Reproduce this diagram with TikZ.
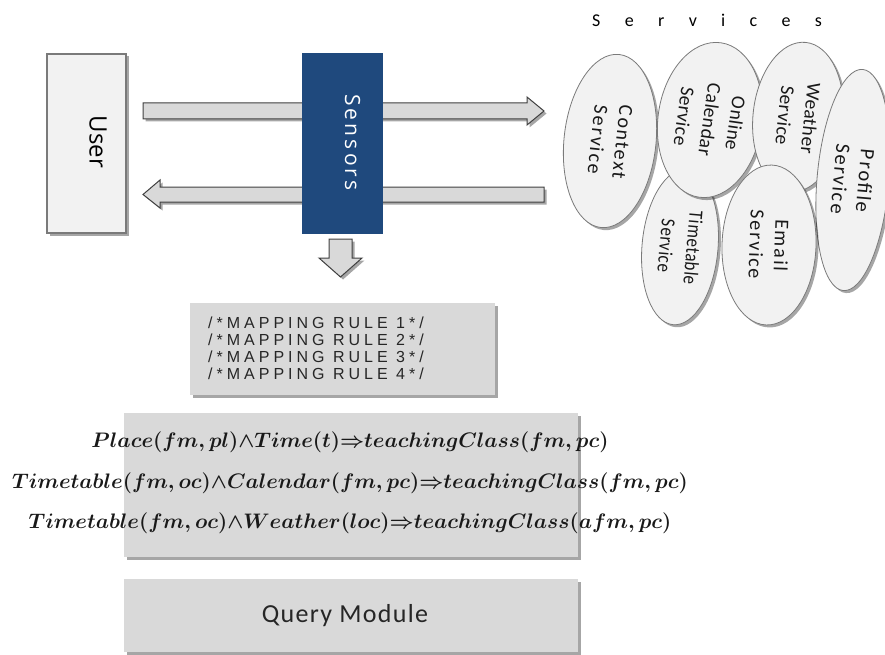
\RequirePackage{fix-cm}
\documentclass[tikz,border=0pt]{standalone}
\usepackage{fontspec}
\setmainfont{Carlito}
\newfontfamily\rulefont[LetterSpace=25]{Liberation Sans}
\newfontfamily\userfont{Open Sans}
\newfontfamily\sensfont[LetterSpace=15]{Open Sans}
\newfontfamily\titlefont[LetterSpace=135]{Carlito}
\newfontfamily\svcfont[LetterSpace=9]{Carlito}
\newfontfamily\svctight[LetterSpace=2]{Carlito}
\newfontfamily\svccond[LetterSpace=3,FakeStretch=0.85]{Carlito}
\newfontfamily\queryfont[LetterSpace=5]{Carlito}
\usetikzlibrary{shapes.geometric,shadows}
\definecolor{boxgray}{HTML}{D9D9D9}
\definecolor{lightfill}{HTML}{F2F2F2}
\definecolor{edgegray}{HTML}{7A7A7A}
\definecolor{darkedge}{HTML}{404040}
\definecolor{sensblue}{HTML}{1F497D}
\tikzset{
  shade/.style={drop shadow={shadow xshift=2.5pt,shadow yshift=-2.5pt,opacity=0.35,fill=black}},
  userbox/.style={draw=edgegray,line width=1.3pt,fill=lightfill,shade,minimum width=79pt,minimum height=179pt,inner sep=0pt},
  sensbox/.style={fill=sensblue,minimum width=81pt,minimum height=181pt,inner sep=0pt},
  graybox/.style={fill=boxgray,shade,inner sep=0pt},
  blockarr/.style={draw=darkedge,line width=1pt,fill=boxgray,shade,line join=miter},
  svc/.style={ellipse,draw=edgegray,line width=0.8pt,fill=lightfill,shade,inner sep=0pt,
    align=center,text=black!90,font=\svcfont\fontsize{#1}{25}\selectfont},
  svcn/.style={svc=#1,font=\svctight\fontsize{#1}{26}\selectfont},
  svcc/.style={svc=#1,font=\svccond\fontsize{#1}{27}\selectfont},
  formula/.style={font=\fontsize{21}{25}\selectfont\boldmath,inner sep=0pt,text=black!90}
}
\begin{document}
\begin{tikzpicture}[x=1pt,y=-1pt]
\useasboundingbox (0,0) rectangle (885,655);
% block arrows
\coordinate (a1tail) at (143,111);
\coordinate (a1tip) at (544,111);
\draw[blockarr] (143,103) -- (527,103) -- (527,97) -- (a1tip) -- (527,125) -- (527,119) -- (143,119) -- cycle;
\coordinate (a2tail) at (544,194.5);
\coordinate (a2tip) at (143,194.5);
\draw[blockarr] (544,187) -- (160,187) -- (160,180) -- (a2tip) -- (160,208) -- (160,202) -- (544,202) -- cycle;
\coordinate (a3tip) at (340.5,277);
\draw[blockarr] (329,239) -- (352,239) -- (352,258) -- (362,258) -- (a3tip) -- (319,258) -- (329,258) -- cycle;
% user and sensors
\node[userbox] (user) at (86.5,143.5) {};
\node[rotate=-90,inner sep=0pt,font=\userfont\fontsize{24}{28}\selectfont] (userlbl) at (98,142) {User};
\node[sensbox] (sensors) at (342.5,143.5) {};
\node[rotate=-90,inner sep=0pt,text=white,font=\sensfont\fontsize{21}{25}\selectfont] (senslbl) at (352.5,142.5) {Sensors};
% services
\node[anchor=west,inner sep=0pt,font=\titlefont\fontsize{18}{22}\selectfont] (svctitle) at (592,20) {Services};
\node[svcc=20,rotate=-95,minimum width=156pt,minimum height=76pt] (timetable) at (680,247) {Timetable\\Service};
\node[svc=20,rotate=-96,minimum width=174pt,minimum height=92pt] (context) at (610,141) {Context\\Service};
\node[svcn=19.5,rotate=-98,minimum width=156pt,minimum height=104pt] (calendar) at (710,120) {Online\\Calendar\\Service};
\node[svcn=19.5,rotate=-96,minimum width=150pt,minimum height=90pt] (weather) at (798,117) {Weather\\Service};
\node[svc=20.5,rotate=-95,minimum width=222pt,minimum height=72pt] (profile) at (853,180) {Profile\\Service};
\node[svc=20,rotate=-92,minimum width=160pt,minimum height=94pt] (email) at (769,245) {Email\\Service};
% mapping rules
\node[graybox,minimum width=305pt,minimum height=92pt] (mapbox) at (342.5,349) {};
\node[anchor=west,align=left,inner sep=0pt,font=\rulefont\fontsize{16}{17}\selectfont,text=black!85] (rules) at (208,348)
  {/*MAPPING RULE 1*/\\/*MAPPING RULE 2*/\\/*MAPPING RULE 3*/\\/*MAPPING RULE 4*/};
% formulas
\node[graybox,minimum width=454pt,minimum height=144pt] (formbox) at (351,485) {};
\node[formula] (f1) at (350,442) {$Place(fm,pl){\wedge}Time(t){\Rightarrow}teachingClass(fm,pc)$};
\node[formula] (f2) at (350,483) {$Timetable(fm,oc){\wedge}Calendar(fm,pc){\Rightarrow}teachingClass(fm,pc)$};
\node[formula] (f3) at (350,523) {$Timetable(fm,oc){\wedge}Weather(loc){\Rightarrow}teachingClass(afm,pc)$};
% query module
\node[graybox,minimum width=454pt,minimum height=73pt] (query) at (351,615.5) {};
\node[inner sep=0pt,font=\queryfont\fontsize{26}{30}\selectfont,text=black!85] (querylbl) at (345,616) {Query Module};
\end{tikzpicture}
\end{document}
